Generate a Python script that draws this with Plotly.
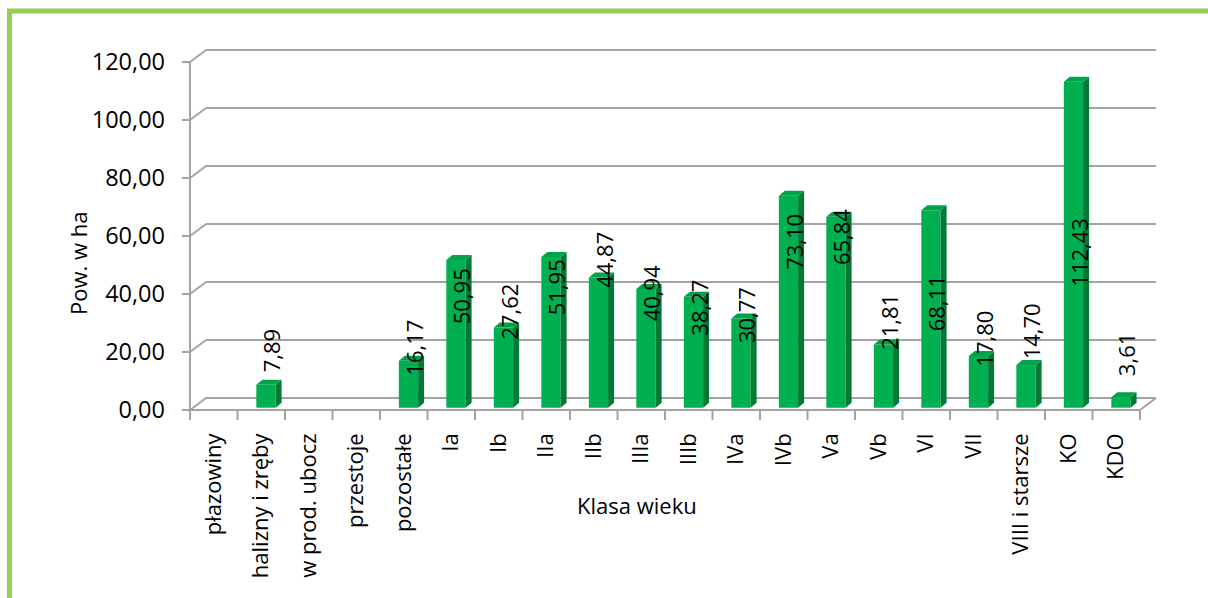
import plotly.graph_objects as go

# Powierzchnia wg klas wieku
categories = ["płazowiny", "halizny i zręby", "w prod. ubocz", "przestoje", "pozostałe",
              "Ia", "Ib", "IIa", "IIb", "IIIa", "IIIb", "IVa", "IVb", "Va", "Vb",
              "VI", "VII", "VIII i starsze", "KO", "KDO"]
values = [0, 7.89, 0, 0, 16.17, 50.95, 27.62, 51.95, 44.87, 40.94, 38.27, 30.77,
          73.10, 65.84, 21.81, 68.11, 17.80, 14.70, 112.43, 3.61]
y_ticks = [0, 20, 40, 60, 80, 100, 120]

# vertical placement of the value labels (axis units)
label_y = [0, 20.3, 0, 0, 21.4, 39.3, 33.8, 42.4, 51.7, 40.3, 35.2, 32.8,
           57.9, 59.7, 30.3, 36.9, 24.5, 27.2, 54.5, 19.0]

FONT = "Open Sans"
GRID = "#a3a3a3"
GREEN = "#00b050"
GREEN_SIDE = "#007a36"
GREEN_TOP = "#00a349"

# pseudo-3D geometry (axis units)
PX_X, PX_Y = 47.5, 2.9          # pixels per category / per value unit
wall_dx, wall_dy = 16 / PX_X, 12 / PX_Y
bar_off, bar_w, bar_base = 0.099, 0.406, 0.8
side_dx, side_dy = 6 / PX_X, 5 / PX_Y
n = len(categories)
x0, x1 = -0.5, n - 0.5

fig = go.Figure()

# front faces
xs = [i + bar_off for i in range(n)]
fig.add_trace(go.Bar(x=xs, y=values, base=bar_base, width=bar_w,
                     marker=dict(color=GREEN, line=dict(width=0)),
                     hoverinfo="skip"))

# side and top faces
sx, sy, tx, ty = [], [], [], []
for i, v in enumerate(values):
    if v <= 0:
        continue
    xl = xs[i] - bar_w / 2
    xr = xs[i] + bar_w / 2
    top = bar_base + v
    sx += [xr, xr + side_dx, xr + side_dx, xr, xr, None]
    sy += [bar_base, bar_base + side_dy, top + side_dy, top, bar_base, None]
    tx += [xl, xl + side_dx, xr + side_dx, xr, xl, None]
    ty += [top, top + side_dy, top + side_dy, top, top, None]
fig.add_trace(go.Scatter(x=sx, y=sy, mode="lines", fill="toself", fillcolor=GREEN_SIDE,
                         line=dict(width=0, color=GREEN_SIDE), hoverinfo="skip"))
fig.add_trace(go.Scatter(x=tx, y=ty, mode="lines", fill="toself", fillcolor=GREEN_TOP,
                         line=dict(width=0, color=GREEN_TOP), hoverinfo="skip"))

shapes = []
line = dict(color=GRID, width=2)
# back-wall gridlines with their diagonal links to the front axis
for t in y_ticks:
    shapes.append(dict(type="line", xref="x", yref="y", layer="below", line=line,
                       x0=x0 + wall_dx, x1=x1 + wall_dx, y0=t + wall_dy, y1=t + wall_dy))
    shapes.append(dict(type="line", xref="x", yref="y", layer="below", line=line,
                       x0=x0, x1=x0 + wall_dx, y0=t, y1=t + wall_dy))
    # value-axis tick mark
    shapes.append(dict(type="line", xref="x", yref="y", layer="below", line=line,
                       x0=x0 - 8 / PX_X, x1=x0, y0=t, y1=t))
# floor front edge and right edge
shapes.append(dict(type="line", xref="x", yref="y", layer="below", line=line,
                   x0=x0, x1=x1, y0=0, y1=0))
shapes.append(dict(type="line", xref="x", yref="y", layer="below", line=line,
                   x0=x1, x1=x1 + wall_dx, y0=0, y1=wall_dy))
# front value axis
shapes.append(dict(type="line", xref="x", yref="y", layer="below", line=line,
                   x0=x0, x1=x0, y0=0, y1=y_ticks[-1]))
# category boundary ticks
for k in range(n + 1):
    shapes.append(dict(type="line", xref="x", yref="y", layer="below", line=line,
                       x0=x0 + k, x1=x0 + k, y0=0, y1=-10 / PX_Y))

# chart frame
L, R, T, B = 168, 1162, 45, 422
W, H = R - L, B - T
def px(xp):
    return (xp - L) / W
def py(yp):
    return (B - yp) / H
shapes.append(dict(type="rect", xref="paper", yref="paper",
                   x0=px(9.5), x1=px(1220), y0=py(11), y1=py(610),
                   line=dict(color="#92d050", width=5), fillcolor="rgba(0,0,0,0)"))

annotations = []
for i, v in enumerate(values):
    if v <= 0:
        continue
    annotations.append(dict(x=i + 0.21, y=label_y[i], xref="x", yref="y",
                            xanchor="center", yanchor="middle",
                            text=f"{v:.2f}".replace(".", ","), showarrow=False,
                            textangle=-90, font=dict(family=FONT, size=22, color="#000")))
annotations.append(dict(x=px(78), y=py(263), xref="paper", yref="paper", text="Pow. w ha",
                        xanchor="center", yanchor="middle",
                        showarrow=False, textangle=-90,
                        font=dict(family=FONT, size=22, color="#000")))
annotations.append(dict(x=px(637), y=py(505), xref="paper", yref="paper", text="Klasa wieku",
                        xanchor="center", yanchor="middle",
                        showarrow=False, font=dict(family=FONT, size=22, color="#000")))

fig.update_layout(
    width=1208, height=598,
    margin=dict(l=L, r=1208 - R, t=T, b=598 - B),
    paper_bgcolor="white", plot_bgcolor="white",
    showlegend=False, hovermode=False,
    separators=", ",
    shapes=shapes, annotations=annotations,
    font=dict(family=FONT, size=22, color="#000"),
)
fig.update_xaxes(range=[(L - 213.75) / PX_X, (R - 213.75) / PX_X],
                 tickmode="array", tickvals=list(range(n)), ticktext=categories,
                 tickangle=-90, ticks="", showgrid=False, zeroline=False, showline=False,
                 ticklabelstandoff=6,
                 tickfont=dict(family=FONT, size=22, color="#000"))
fig.update_yaxes(range=[(410 - B) / PX_Y, (410 - T) / PX_Y],
                 tickmode="array", tickvals=y_ticks, tickformat=".2f",
                 ticks="", showgrid=False, zeroline=False, showline=False,
                 ticklabelstandoff=2,
                 tickfont=dict(family=FONT, size=23.5, color="#000"))

fig.write_html("out.html")
